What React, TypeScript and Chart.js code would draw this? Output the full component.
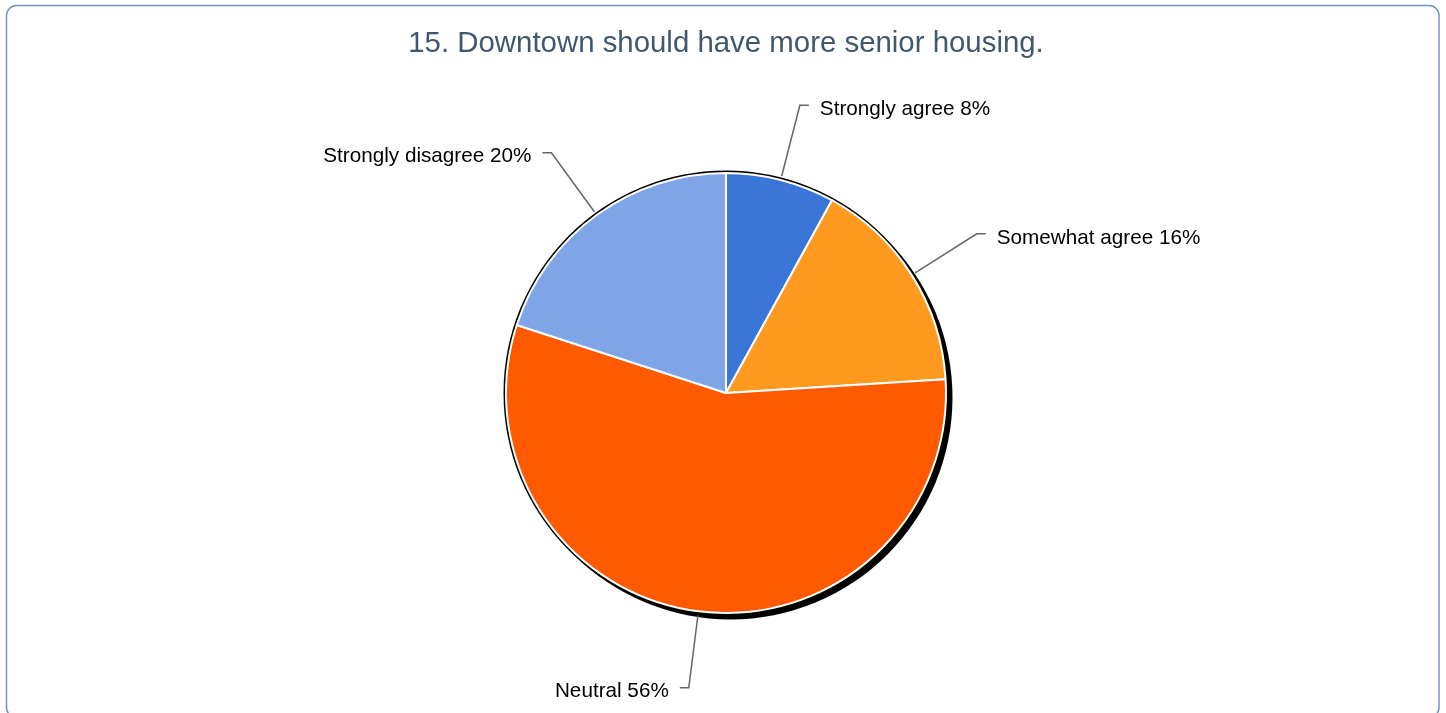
import React, { useEffect, useRef } from "react";
import { Chart, registerables } from "chart.js";

Chart.register(...registerables);

const titleText = "15. Downtown should have more senior housing.";
const categories = ["Strongly agree", "Somewhat agree", "Neutral", "Strongly disagree"];
const values = [8, 16, 56, 20];
const sliceColors = ["#3a76d8", "#ff9a20", "#ff5a00", "#7fa5e8"];

const W = 1446;
const H = 713;

const framePlugin = {
  id: "frame",
  beforeDraw(chart: any) {
    const ctx = chart.ctx;
    ctx.save();
    ctx.fillStyle = "#ffffff";
    ctx.fillRect(0, 0, W, H);
    ctx.strokeStyle = "#6f92c9";
    ctx.lineWidth = 1.5;
    ctx.beginPath();
    (ctx as any).roundRect(6.5, 5.5, 1432.5, 712, 10);
    ctx.stroke();
    ctx.fillStyle = "#41576f";
    ctx.font = "29.4px 'Liberation Sans', Arial, sans-serif";
    ctx.textAlign = "center";
    ctx.textBaseline = "middle";
    ctx.fillText(titleText, 726, 44);
    ctx.restore();
  },
};

const shadowPlugin = {
  id: "pieShadow",
  beforeDatasetsDraw(chart: any) {
    const meta = chart.getDatasetMeta(0);
    if (!meta.data.length) return;
    const arc: any = meta.data[0];
    const { x, y, outerRadius } = arc.getProps(["x", "y", "outerRadius"], true);
    const ctx = chart.ctx;
    ctx.save();
    ctx.fillStyle = "#000000";
    ctx.beginPath();
    ctx.arc(x + 4.5, y + 4.5, outerRadius + 2, 0, Math.PI * 2);
    ctx.fill();
    ctx.beginPath();
    ctx.arc(x, y, outerRadius + 2.5, 0, Math.PI * 2);
    ctx.fill();
    ctx.restore();
  },
};

const labelPlugin = {
  id: "leaderLabels",
  afterDatasetsDraw(chart: any) {
    const meta = chart.getDatasetMeta(0);
    const ctx = chart.ctx;
    const total = values.reduce((a, b) => a + b, 0);
    ctx.save();
    meta.data.forEach((el: any, i: number) => {
      const { x, y, startAngle, endAngle, outerRadius } = el.getProps(
        ["x", "y", "startAngle", "endAngle", "outerRadius"],
        true
      );
      const mid = (startAngle + endAngle) / 2;
      const c = Math.cos(mid);
      const s = Math.sin(mid);
      const r0 = outerRadius + 4;
      const r1 = outerRadius + 77;
      const x0 = x + c * r0;
      const y0 = y + s * r0;
      const x1 = x + c * r1;
      const y1 = y + s * r1;
      const dir = c >= 0 ? 1 : -1;
      const x2 = x1 + dir * 9;
      ctx.strokeStyle = "#666666";
      ctx.lineWidth = 1.5;
      ctx.beginPath();
      ctx.moveTo(x0, y0);
      ctx.lineTo(x1, y1);
      ctx.lineTo(x2, y1);
      ctx.stroke();
      const pct = Math.round((values[i] / total) * 100);
      const label = `${categories[i]} ${pct}%`;
      ctx.fillStyle = "#000000";
      ctx.font = "20.7px 'Liberation Sans', Arial, sans-serif";
      ctx.textBaseline = "middle";
      ctx.textAlign = dir > 0 ? "left" : "right";
      ctx.fillText(label, x2 + dir * 11, y1 + 4);
    });
    ctx.restore();
  },
};

export default function App() {
  const canvasRef = useRef<HTMLCanvasElement | null>(null);

  useEffect(() => {
    const canvas = canvasRef.current;
    if (!canvas) return;
    const chart = new Chart(canvas, {
      type: "pie",
      data: {
        labels: categories,
        datasets: [
          {
            data: values,
            backgroundColor: sliceColors,
            borderColor: "#ffffff",
            borderWidth: 2,
          },
        ],
      },
      options: {
        responsive: false,
        animation: false,
        devicePixelRatio: 1,
        layout: { padding: { top: 172, bottom: 99, left: 505, right: 499 } },
        plugins: {
          legend: { display: false },
          title: { display: false },
          tooltip: { enabled: false },
        },
      },
      plugins: [framePlugin, shadowPlugin, labelPlugin],
    });
    return () => chart.destroy();
  }, []);

  return (
    <div style={{ position: "fixed", left: 0, top: 0, width: W, height: H, background: "#fff" }}>
      <canvas ref={canvasRef} width={W} height={H} style={{ display: "block", width: W, height: H }} />
    </div>
  );
}
